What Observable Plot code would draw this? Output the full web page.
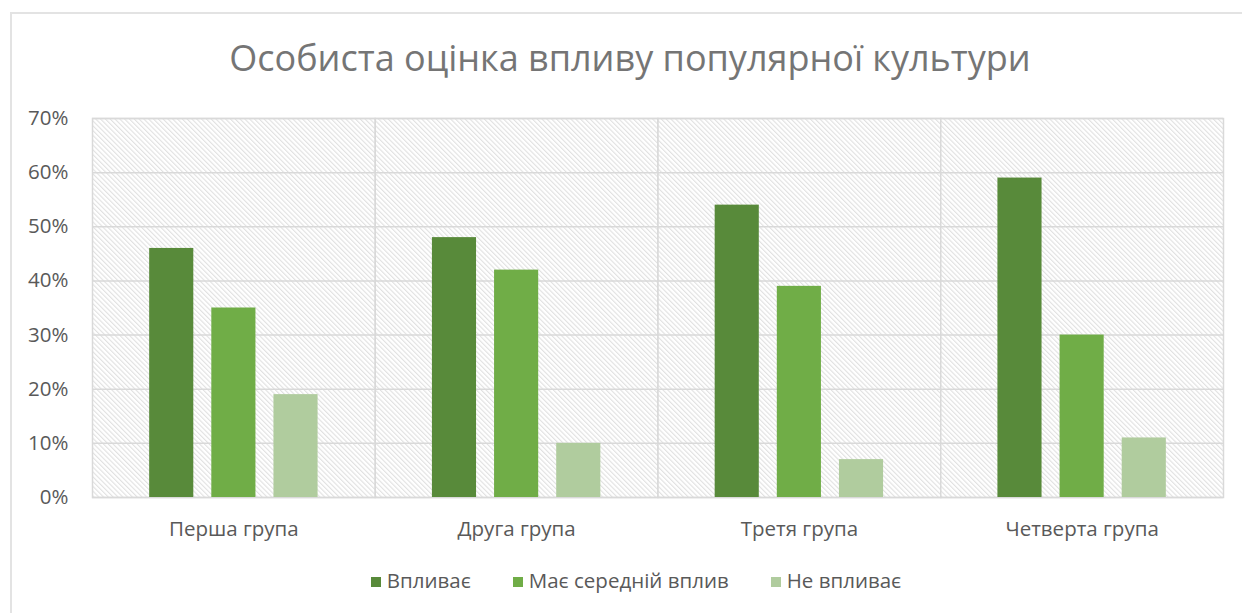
<!DOCTYPE html>
<html>
<head>
<meta charset="utf-8">
<script src="https://cdn.jsdelivr.net/npm/d3@7"></script>
<script src="https://cdn.jsdelivr.net/npm/@observablehq/plot@0.6"></script>
<style>
  html, body { margin: 0; padding: 0; background: #fff; }
  #wrap { position: relative; width: 1242px; height: 613px; overflow: hidden; font-family: "Open Sans", sans-serif; }
  #border { position: absolute; left: 10px; top: 12px; width: 1300px; height: 700px; border-left: 2px solid #e3e3e3; border-top: 2px solid #e3e3e3; }
  #title { position: absolute; left: 9px; top: 40px; width: 1242px; text-align: center; font-size: 36px; line-height: 1; color: #757575; white-space: nowrap; }
  #chart { position: absolute; left: 0; top: 0; }
  #legend { position: absolute; left: 15px; top: 570px; width: 1242px; display: flex; justify-content: center; font-size: 20.5px; line-height: 1; color: #595959; }
  .item { display: flex; align-items: center; margin: 0 21px; }
  .sw { width: 10px; height: 10px; margin-right: 6px; margin-top: 3px; }
</style>
</head>
<body>
<div id="wrap">
  <div id="border"></div>
  <div id="chart"></div>
  <div id="title">Особиста оцінка впливу популярної культури</div>
  <div id="legend"></div>
</div>
<script>
const groups = ["Перша група", "Друга група", "Третя група", "Четверта група"];
const series = ["Впливає", "Має середній вплив", "Не впливає"];
const vplyvaie = [0.46, 0.48, 0.54, 0.59];
const seredniiVplyv = [0.35, 0.42, 0.39, 0.30];
const neVplyvaie = [0.19, 0.10, 0.07, 0.11];
const yTicks = [0, 0.1, 0.2, 0.3, 0.4, 0.5, 0.6, 0.7];
const colors = ["#588A3A", "#70AD47", "#B0CC9E"];

const seriesValues = [vplyvaie, seredniiVplyv, neVplyvaie];
const data = groups.flatMap((g, i) => series.map((s, j) => ({group: g, series: s, value: seriesValues[j][i]})));

const pct = d3.format(".0%");

const plot = Plot.plot({
  width: 1242,
  height: 613,
  marginLeft: 92,
  marginRight: 19,
  marginTop: 118,
  marginBottom: 116,
  style: {fontFamily: "Open Sans", background: "transparent"},
  fx: {domain: groups, padding: 0, label: null, round: false},
  x: {domain: series, axis: null, paddingInner: 0.29, paddingOuter: 0.92, round: false},
  y: {domain: [0, 0.7], label: null},
  color: {domain: series, range: colors},
  marks: [
    Plot.frame({fill: "url(#hatch)", stroke: "#d9d9d9", strokeWidth: 1.5}),
    Plot.gridY(yTicks, {stroke: "#d9d9d9", strokeOpacity: 1, strokeWidth: 1.5}),
    Plot.barY(data, {fx: "group", x: "series", y: "value", fill: "series"}),
    Plot.axisY(yTicks, {tickSize: 0, tickPadding: 24, tickFormat: pct, fontSize: 20.5, fill: "#595959", label: null}),
    Plot.axisFx({anchor: "bottom", tickSize: 0, tickPadding: 24, fontSize: 20.5, fill: "#595959", label: null})
  ]
});

const svg = d3.select(plot);
const defs = svg.insert("defs", ":first-child");
const pat = defs.append("pattern")
  .attr("id", "hatch")
  .attr("patternUnits", "userSpaceOnUse")
  .attr("width", 3.4)
  .attr("height", 3.4)
  .attr("patternTransform", "rotate(-45)");
pat.append("rect").attr("width", 3.4).attr("height", 3.4).attr("fill", "#ffffff");
pat.append("line").attr("x1", 0.6).attr("y1", 0).attr("x2", 0.6).attr("y2", 3.4)
  .attr("stroke", "#dedede").attr("stroke-width", 1);

document.getElementById("chart").appendChild(plot);

const legend = d3.select("#legend");
series.forEach((s, i) => {
  const it = legend.append("div").attr("class", "item");
  it.append("div").attr("class", "sw").style("background", colors[i]);
  it.append("span").text(s);
});
</script>
</body>
</html>
